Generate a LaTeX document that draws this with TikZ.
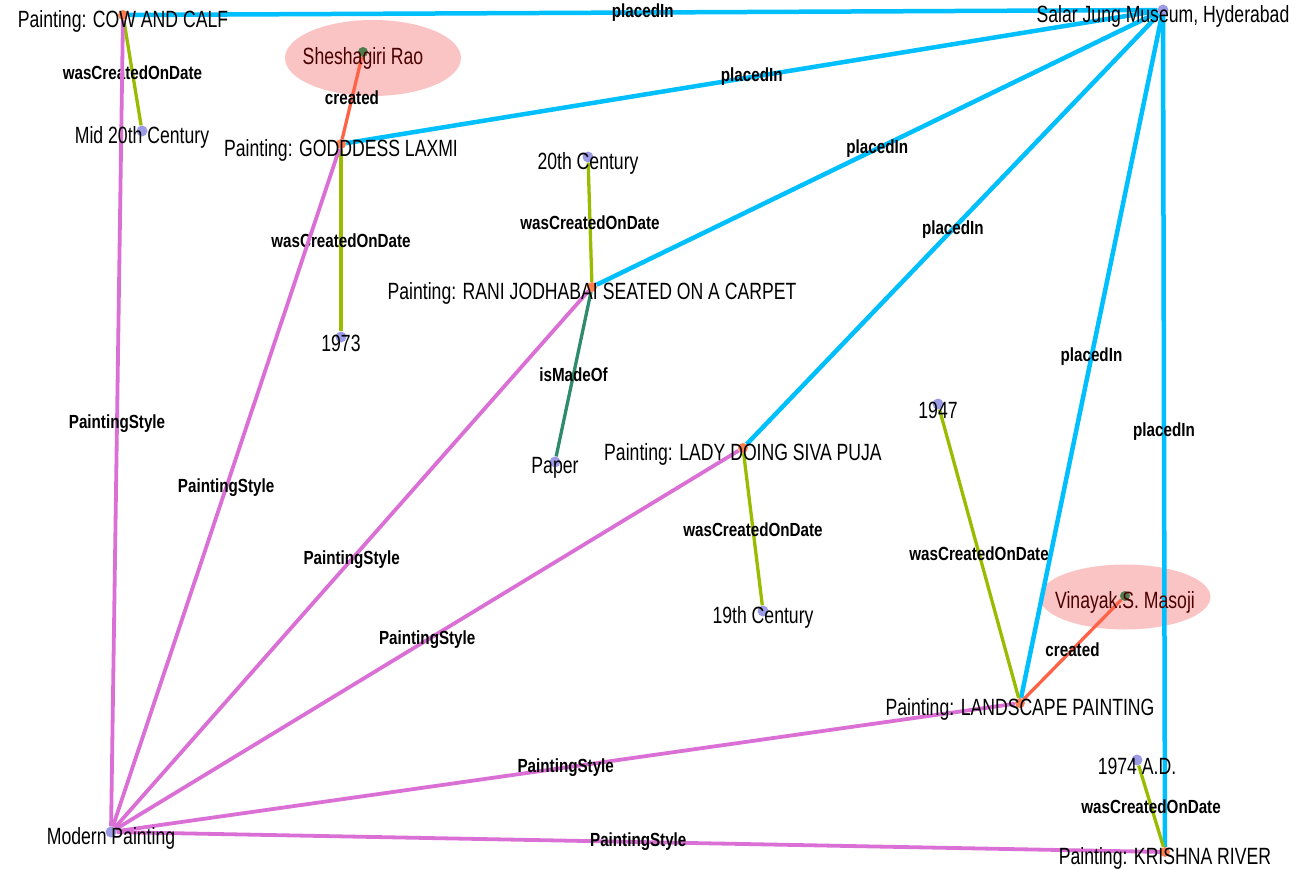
\documentclass[tikz,border=0pt]{standalone}
\usepackage{fontspec}
\setmainfont{Liberation Sans}[FakeStretch=0.75]
\newfontfamily\edgefont{Liberation Sans}[FakeStretch=0.80]
\usetikzlibrary{shapes.geometric}
\definecolor{placedblue}{HTML}{00BFFF}
\definecolor{stylepink}{HTML}{DA70D6}
\definecolor{dategreen}{HTML}{99BB00}
\definecolor{createdred}{HTML}{FF6347}
\definecolor{madeofgreen}{HTML}{2E8B6E}
\definecolor{dotblue}{HTML}{9C9CE6}
\definecolor{paintorange}{HTML}{FF7F50}
\definecolor{artistgreen}{HTML}{4E7E4E}
\definecolor{artistpink}{HTML}{FBC4C4}
\definecolor{artistred}{HTML}{4A0000}
\pgfdeclarelayer{bg}
\pgfsetlayers{bg,main}
\begin{document}
\begin{tikzpicture}[x=1pt, y=-1pt,
  vdot/.style={circle, inner sep=0pt, minimum size=11pt, fill=dotblue},
  pdot/.style={circle, inner sep=0pt, minimum size=10pt, fill=paintorange},
  adot/.style={circle, inner sep=0pt, minimum size=10pt, fill=artistgreen},
  txt/.style={font=\fontsize{23.5}{24}\selectfont, inner sep=0pt, yshift=-6pt},
  atxt/.style={txt, text=artistred},
  blob/.style={ellipse, fill=artistpink, inner sep=0pt},
  rel/.style={font=\edgefont\bfseries\fontsize{19}{19}\selectfont, inner sep=0pt, midway},
  placedin/.style={draw=placedblue, line width=4.5pt},
  pstyle/.style={draw=stylepink, line width=3.8pt},
  ondate/.style={draw=dategreen, line width=3.3pt},
  created/.style={draw=createdred, line width=3.3pt},
  madeof/.style={draw=madeofgreen, line width=3.3pt}]
\useasboundingbox (0,0) rectangle (1315,870);
% paintings
\node[pdot] (cow) at (123,15){};
\node[pdot] (goddess) at (341,144){};
\node[pdot] (rani) at (592,287){};
\node[pdot] (lady) at (743,448){};
\node[pdot] (landscape) at (1020,703){};
\node[pdot] (krishna) at (1165,852){};
% artists
\node[adot] (shesha) at (363,52){};
\node[adot] (vinayak) at (1125,596){};
% other resources
\node[vdot] (salar) at (1163,10){};
\node[vdot] (mid20) at (142,131){};
\node[vdot] (c20) at (588,157){};
\node[vdot] (y1973) at (341,337){};
\node[vdot] (paper) at (555,462){};
\node[vdot] (c19) at (763,611){};
\node[vdot] (y1947) at (938,404){};
\node[vdot] (y1974) at (1137,760){};
\node[vdot] (modern) at (111,832){};
% labels
\node[txt] (cowtxt) at (cow) {Painting: COW AND CALF};
\node[txt] (goddesstxt) at (goddess) {Painting: GODDDESS LAXMI};
\node[txt] (ranitxt) at (rani) {Painting: RANI JODHABAI SEATED ON A CARPET};
\node[txt] (ladytxt) at (lady) {Painting: LADY DOING SIVA PUJA};
\node[txt] (landscapetxt) at (landscape) {Painting: LANDSCAPE PAINTING};
\node[txt] (krishnatxt) at (krishna) {Painting: KRISHNA RIVER};
\node[atxt] (sheshatxt) at (shesha) {Sheshagiri Rao};
\node[atxt] (vinayaktxt) at (vinayak) {Vinayak.S. Masoji};
\node[txt] (salartxt) at (salar) {Salar Jung Museum, Hyderabad};
\node[txt] (mid20txt) at (mid20) {Mid 20th Century};
\node[txt] (c20txt) at (c20) {20th Century};
\node[txt] (y1973txt) at (y1973) {1973};
\node[txt] (papertxt) at (paper) {Paper};
\node[txt] (c19txt) at (c19) {19th Century};
\node[txt] (y1947txt) at (y1947) {1947};
\node[txt] (y1974txt) at (y1974) {1974 A.D.};
\node[txt] (moderntxt) at (modern) {Modern Painting};
\begin{pgfonlayer}{bg}
\node[blob, minimum width=176pt, minimum height=76pt] (sheshablob) at (373,58){};
\node[blob, minimum width=171pt, minimum height=65pt] (vinayakblob) at (1125,597){};
% placedIn
\draw[placedin] (cow) -- node[rel]{placedIn} (salar);
\draw[placedin] (goddess) -- node[rel]{placedIn} (salar);
\draw[placedin] (rani) -- node[rel]{placedIn} (salar);
\draw[placedin] (lady) -- node[rel]{placedIn} (salar);
\draw[placedin] (landscape) -- node[rel]{placedIn} (salar);
\draw[placedin] (krishna) -- node[rel]{placedIn} (salar);
% wasCreatedOnDate
\draw[ondate] (cow) -- node[rel]{wasCreatedOnDate} (mid20);
\draw[ondate] (goddess) -- node[rel]{wasCreatedOnDate} (y1973);
\draw[ondate] (c20) -- node[rel]{wasCreatedOnDate} (rani);
\draw[ondate] (lady) -- node[rel]{wasCreatedOnDate} (c19);
\draw[ondate] (landscape) -- node[rel]{wasCreatedOnDate} (y1947);
\draw[ondate] (krishna) -- node[rel]{wasCreatedOnDate} (y1974);
% created, isMadeOf
\draw[created] (shesha) -- node[rel]{created} (goddess);
\draw[created] (vinayak) -- node[rel]{created} (landscape);
\draw[madeof] (rani) -- node[rel]{isMadeOf} (paper);
% PaintingStyle
\draw[pstyle] (cow) -- node[rel]{PaintingStyle} (modern);
\draw[pstyle] (goddess) -- node[rel]{PaintingStyle} (modern);
\draw[pstyle] (rani) -- node[rel]{PaintingStyle} (modern);
\draw[pstyle] (lady) -- node[rel]{PaintingStyle} (modern);
\draw[pstyle] (landscape) -- node[rel]{PaintingStyle} (modern);
\draw[pstyle] (krishna) -- node[rel]{PaintingStyle} (modern);
\end{pgfonlayer}
\end{tikzpicture}
\end{document}
